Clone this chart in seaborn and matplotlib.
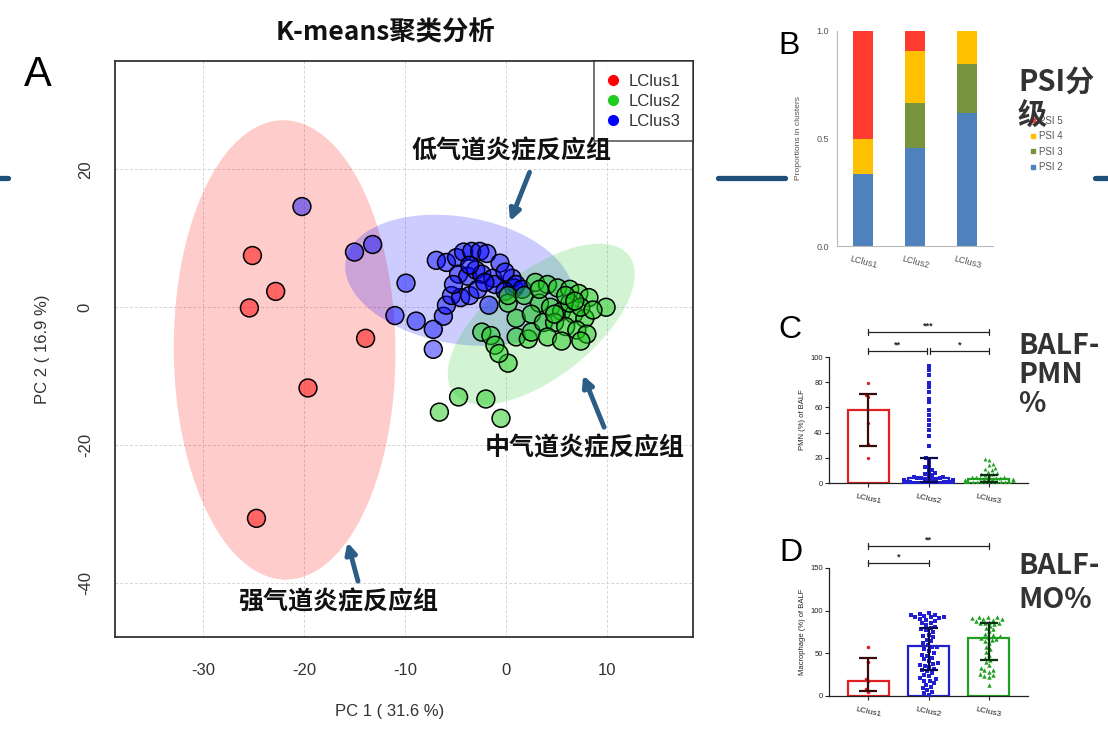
import numpy as np
import pandas as pd
import matplotlib
matplotlib.use("Agg")
import matplotlib.pyplot as plt
import seaborn as sns
from matplotlib.lines import Line2D

sns.set_style("white")
plt.rcParams["font.family"] = ["Liberation Sans", "Noto Sans CJK SC", "DejaVu Sans"]
CJK = ["Noto Sans CJK SC", "DejaVu Sans"]

# ---------------- Panel A data (PCA scores) ----------------
clus1_pc1 = [-25.1, -22.8, -25.4, -13.9, -19.6, -24.7]
clus1_pc2 = [7.5, 2.3, -0.1, -4.5, -11.7, -30.6]

clus3_pc1 = [-20.2, -15.0, -13.2, -9.9, -11.0, -8.9, -7.2, -7.2, -6.2, -5.9, -6.9, -5.9,
             -4.9, -4.2, -3.4, -2.6, -1.9, -0.6, -4.7, -3.8, -3.0, -2.4, -1.3, 0.6, 0.8,
             -1.1, -5.4, -4.5, -3.6, -2.8, -1.7, -0.1, -2.1, 1.0, 1.6, -0.1, -5.2, -3.6]
clus3_pc2 = [14.6, 8.0, 9.1, 3.5, -1.2, -2.0, -3.2, -6.1, -1.3, 0.3, 6.8, 6.5,
             7.2, 8.0, 8.1, 8.1, 7.8, 6.4, 4.8, 4.5, 5.4, 4.8, 4.2, 4.2, 2.8,
             3.3, 1.7, 1.4, 1.7, 2.6, 0.3, 5.1, 3.6, 3.3, 2.6, 2.3, 3.3, 6.1]

clus2_pc1 = [-6.6, -4.7, -2.0, -0.5, 0.2, -2.4, -1.5, -1.1, -0.7, 1.0, 2.2, 2.5, 1.0, 0.2,
             0.2, 1.8, 2.9, 4.1, 5.1, 6.3, 7.2, 8.2, 9.9, 3.3, 4.4, 5.5, 6.7, 7.8, 2.5,
             3.7, 4.8, 5.9, 7.0, 8.0, 4.1, 5.5, 7.4, 4.8, 6.3, 7.4, 3.3, 5.9, 8.6, 6.8]
clus2_pc2 = [-15.2, -13.0, -13.3, -16.1, -8.1, -3.6, -4.1, -5.5, -6.7, -4.3, -4.6, -3.6, -1.6, 0.6,
             1.7, 1.7, 3.6, 3.3, 2.8, 2.6, 2.0, 1.4, 0.0, 0.6, 0.0, -0.6, -1.0, -1.6, -1.0,
             -2.2, -2.2, -2.8, -3.3, -3.9, -4.3, -4.9, -4.9, -1.0, 0.6, 0.0, 2.6, 1.7, -0.4, 0.9]

a_xticks = [-30, -20, -10, 0, 10]
a_yticks = [-40, -20, 0, 20]

# ---------------- Panel B data (PSI proportions) ----------------
b_clusters = ["LClus1", "LClus2", "LClus3"]
psi2 = [0.333, 0.457, 0.618]
psi3 = [0.000, 0.209, 0.227]
psi4 = [0.167, 0.241, 0.155]
psi5 = [0.500, 0.093, 0.000]

# ---------------- Panel C data (PMN %) ----------------
c_bar = [58, 4, 3]
c_err_lo = [29, 1, 1]
c_err_hi = [71, 20, 6]
c_pts1 = [79, 70, 68, 48, 31, 20]
c_pts2 = [93, 90, 86, 79, 76, 72, 67, 64, 58, 54, 50, 46, 42, 37, 29, 20, 18, 15, 13, 12,
          10, 9, 8, 7, 6, 6, 5, 5, 4, 4, 4, 3, 3, 3, 3, 2, 2, 2, 2, 2, 1, 1, 1, 1, 1,
          1, 0.5, 0.5, 0.5, 0.5, 0, 0, 0, 0, 0, 0, 0, 0]
c_pts3 = [19, 18, 15, 14, 12, 11, 10, 9, 8, 7, 7, 6, 6, 5, 5, 5, 4, 4, 4, 3, 3, 3, 3, 2,
          2, 2, 2, 2, 1, 1, 1, 1, 1, 1, 0.5, 0.5, 0.5, 0, 0, 0]

# ---------------- Panel D data (Macrophage %) ----------------
d_bar = [18, 58.6, 68.5]
d_err_lo = [6, 30.5, 42]
d_err_hi = [44, 80, 85]
d_pts1 = [57, 40, 20, 17, 8, 5]
d_pts2 = [97, 96, 95, 95, 94, 93, 92, 92, 91, 90, 89, 88, 86, 85, 83, 81, 80, 78, 77, 75,
          72, 70, 69, 66, 64, 62, 60, 58, 57, 55, 53, 50, 48, 47, 45, 43, 41, 39, 38, 36,
          35, 34, 32, 30, 29, 27, 25, 23, 21, 20, 18, 17, 15, 13, 11, 9, 7, 5, 3, 1]
d_pts3 = [93, 92, 92, 91, 90, 90, 89, 88, 87, 86, 85, 85, 84, 82, 80, 78, 76, 73, 71, 70,
          69, 68, 67, 66, 65, 62, 58, 55, 52, 48, 45, 42, 40, 36, 33, 31, 30, 28, 26, 25,
          23, 22, 13]

W, H = 1108, 736
fig = plt.figure(figsize=(W / 100, H / 100), dpi=100)
fig.patch.set_facecolor("white")


def px_axes(l, t, r, b):
    return fig.add_axes([l / W, 1 - b / H, (r - l) / W, (b - t) / H])


# decorative slide lines
for x0, x1 in [(0, 8), (718, 785), (1095, 1108)]:
    fig.add_artist(Line2D([x0 / W, x1 / W], [1 - 178 / H] * 2, color="#1F4E79", lw=3.8,
                          transform=fig.transFigure))

# ======================= Panel A =======================
axA = px_axes(115, 61, 693, 637)
dfA = pd.DataFrame({
    "pc1": clus1_pc1 + clus3_pc1 + clus2_pc1,
    "pc2": clus1_pc2 + clus3_pc2 + clus2_pc2,
    "cluster": ["LClus1"] * len(clus1_pc1) + ["LClus3"] * len(clus3_pc1) + ["LClus2"] * len(clus2_pc1),
})
solid = {"LClus1": "#FF0000", "LClus2": "#1FCC1F", "LClus3": "#0000FF"}


def conf_ellipse(x, y, n=200, k=np.sqrt(5.991)):
    x = np.asarray(x); y = np.asarray(y)
    cov = np.cov(x, y)
    vals, vecs = np.linalg.eigh(cov)
    t = np.linspace(0, 2 * np.pi, n)
    circ = np.stack([np.cos(t), np.sin(t)])
    pts = vecs @ (np.sqrt(vals)[:, None] * circ) * k
    return x.mean() + pts[0], y.mean() + pts[1]


for name, xs, ys in [("LClus1", clus1_pc1, clus1_pc2), ("LClus3", clus3_pc1, clus3_pc2),
                     ("LClus2", clus2_pc1, clus2_pc2)]:
    ex, ey = conf_ellipse(xs, ys)
    axA.fill(ex, ey, color=solid[name], alpha=0.2, lw=0, zorder=1)

pal_alpha = {"LClus1": (1.0, 0.0, 0.0, 0.5), "LClus2": (0.12, 0.8, 0.12, 0.5),
             "LClus3": (0.0, 0.0, 1.0, 0.45)}
sns.scatterplot(data=dfA, x="pc1", y="pc2", hue="cluster", palette=pal_alpha, s=165,
                edgecolor="black", linewidth=1.1, legend=False, ax=axA, zorder=3)

axA.set_xlim(-38.7, 18.5)
axA.set_ylim(-47.8, 35.7)
axA.set_xticks(a_xticks)
axA.set_yticks(a_yticks)
axA.set_xticklabels([str(v) for v in a_xticks])
axA.set_yticklabels([str(v) for v in a_yticks], rotation=90, va="center")
axA.tick_params(axis="both", direction="out", length=8, width=1.2, color="#333333",
                labelsize=12, labelcolor="#333333")
axA.tick_params(axis="x", pad=11)
axA.tick_params(axis="y", pad=8)
axA.grid(True, color="#D5D5D5", linestyle=(0, (3, 2)), lw=0.7, zorder=0)
axA.set_axisbelow(True)
for s in axA.spines.values():
    s.set_color("#333333"); s.set_linewidth(1.3)
axA.set_xlabel("PC 1 ( 31.6 %)", fontsize=12, color="#333333")
axA.set_ylabel("PC 2 ( 16.9 %)", fontsize=12, color="#333333")
axA.xaxis.set_label_coords(0.475, -0.117)
axA.yaxis.set_label_coords(-0.112, 0.5)

handles = [Line2D([], [], marker="o", ls="", color=solid[k], markersize=7, label=k)
           for k in ["LClus1", "LClus2", "LClus3"]]
leg = axA.legend(handles=handles, loc="upper right", frameon=True, fancybox=False,
                 edgecolor="#222222", borderaxespad=0, fontsize=12, handlelength=0.8,
                 handletextpad=0.5, labelspacing=0.3, borderpad=0.75)
leg.get_frame().set_linewidth(1.1)
for t in leg.get_texts():
    t.set_color("#333333")


def d(px, py):
    return ((px - 506) / 10.1, (307 - py) / 6.9)


arrow_col = "#2C5D86"
for txt, tpos, start, tip in [
    ("低气道炎症反应组", (511, 151), (529.5, 172), (510, 221)),
    ("中气道炎症反应组", (585, 448), (604, 427), (583, 375)),
    ("强气道炎症反应组", (338, 602), (358, 581), (347.5, 542)),
]:
    axA.text(*d(*tpos), txt, fontsize=18, fontweight="bold", family=CJK,
             ha="center", va="center", color="#111111", zorder=6)
    axA.annotate("", xy=d(*tip), xytext=d(*start),
                 arrowprops=dict(arrowstyle="-|>", color=arrow_col, lw=3.5,
                                 mutation_scale=16, shrinkA=0, shrinkB=0), zorder=6)

fig.text(38 / W, 1 - 75 / H, "A", fontsize=30, ha="center", va="center", color="black")
fig.text(385 / W, 1 - 33 / H, "K-means聚类分析", fontsize=19, fontweight="bold",
         family=CJK, ha="center", va="center", color="#111111")

# ======================= Panel B =======================
axB = px_axes(837, 31, 993, 246)
cum2 = np.array(psi2)
cum3 = cum2 + np.array(psi3)
cum4 = cum3 + np.array(psi4)
cum5 = cum4 + np.array(psi5)
b_cols = {"PSI 5": "#FF3B30", "PSI 4": "#FFC000", "PSI 3": "#77933C", "PSI 2": "#4F81BD"}
for lab, vals in [("PSI 5", cum5), ("PSI 4", cum4), ("PSI 3", cum3), ("PSI 2", cum2)]:
    sns.barplot(x=b_clusters, y=vals, color=b_cols[lab], width=0.4, ax=axB,
                saturation=1, linewidth=0)
axB.set_xlim(-0.5, 2.5)
axB.set_ylim(0, 1.0)
axB.set_yticks([0, 0.5, 1.0])
axB.set_yticklabels(["0.0", "0.5", "1.0"])
axB.tick_params(axis="both", length=0, labelsize=6.5, labelcolor="#555555", pad=6)
plt.setp(axB.get_xticklabels(), rotation=-15, ha="center")
for s in ["top", "right"]:
    axB.spines[s].set_visible(False)
for s in ["left", "bottom"]:
    axB.spines[s].set_color("#BBBBBB"); axB.spines[s].set_linewidth(0.8)
axB.set_ylabel("Proportions in clusters", fontsize=6, color="#555555", labelpad=10)
bh = [Line2D([], [], marker="s", ls="", color=b_cols[k], markersize=3.5, label=k)
      for k in ["PSI 5", "PSI 4", "PSI 3", "PSI 2"]]
fig.legend(handles=bh, loc="upper left", bbox_to_anchor=(1026 / W, 1 - 112 / H),
           frameon=False, fontsize=7, handlelength=0.6, handletextpad=0.3,
           labelspacing=0.55, borderaxespad=0, labelcolor="#555555")
fig.text(789 / W, 1 - 46 / H, "B", fontsize=23, ha="center", va="center", color="black")
fig.text(1018 / W, 1 - 82 / H, "PSI分", fontsize=21, fontweight="bold", family=CJK,
         ha="left", va="center", color="#333333", zorder=10)
fig.text(1018 / W, 1 - 116 / H, "级", fontsize=21, fontweight="bold", family=CJK,
         ha="left", va="center", color="#333333", zorder=10)

# ======================= Panels C and D =======================
cats = ["LClus1", "LClus2", "LClus3"]
cd_cols = {"LClus1": "#E02020", "LClus2": "#2020D0", "LClus3": "#20A020"}
err_cols = ["#3A0A0A", "#0A0A50", "#0A3010"]
markers = ["o", "s", "^"]


def bracket(ax, x0, x1, y, label, cap):
    ax.plot([x0, x1], [y, y], color="#222222", lw=0.9, clip_on=False)
    ax.plot([x0, x0], [y - cap, y + cap], color="#222222", lw=0.9, clip_on=False)
    ax.plot([x1, x1], [y - cap, y + cap], color="#222222", lw=0.9, clip_on=False)
    ax.text((x0 + x1) / 2, y + cap * 0.4, label, ha="center", va="bottom", fontsize=6.5,
            fontweight="bold", color="#222222")


def bar_panel(ax, bars, lo, hi, pts, ylim, yticks, ylabel, sizes):
    sns.barplot(x=cats, y=bars, hue=cats, palette=cd_cols, fill=False, width=0.68,
                linewidth=1.6, legend=False, ax=ax, zorder=2)
    for i, (c, v) in enumerate(zip(cats, pts)):
        dfp = pd.DataFrame({"g": [c] * len(v), "v": v})
        sns.swarmplot(data=dfp, x="g", y="v", order=cats, color=cd_cols[c],
                      marker=markers[i], size=sizes[i], ax=ax, zorder=3, linewidth=0)
    for i in range(3):
        ax.errorbar(i, bars[i], yerr=[[bars[i] - lo[i]], [hi[i] - bars[i]]],
                    color=err_cols[i], capsize=6.5, elinewidth=1.6, capthick=1.6, zorder=4)
    ax.set_xlim(-0.65, 2.65)
    ax.set_ylim(*ylim)
    ax.set_yticks(yticks)
    ax.set_xlabel("")
    ax.set_ylabel(ylabel, fontsize=5.5, color="#222222", labelpad=3)
    ax.tick_params(axis="y", direction="out", length=3, width=0.8, labelsize=5.5,
                   labelcolor="#222222", pad=1.5, left=True)
    ax.tick_params(axis="x", direction="out", length=3, width=0.8, labelsize=6,
                   labelcolor="#222222", pad=4, bottom=True)
    plt.setp(ax.get_xticklabels(), rotation=-12, ha="center")
    for s in ["top", "right"]:
        ax.spines[s].set_visible(False)
    for s in ["left", "bottom"]:
        ax.spines[s].set_color("#222222"); ax.spines[s].set_linewidth(0.9)


axC = px_axes(829, 357, 1028, 483)
bar_panel(axC, c_bar, c_err_lo, c_err_hi, [c_pts1, c_pts2, c_pts3], (0, 100),
          [0, 20, 40, 60, 80, 100], "PMN (%) of BALF", [2.4, 2.6, 2.8])
bracket(axC, 0, 2, 120, "***", 2.5)
bracket(axC, 0, 0.97, 105, "**", 2.5)
bracket(axC, 1.03, 2, 105, "*", 2.5)

axD = px_axes(829, 568, 1028, 696)
bar_panel(axD, d_bar, d_err_lo, d_err_hi, [d_pts1, d_pts2, d_pts3], (0, 150),
          [0, 50, 100, 150], "Macrophage (%) of BALF", [2.6, 3.4, 3.2])
bracket(axD, 0, 2, 176, "**", 3.5)
bracket(axD, 0, 1, 156, "*", 3.5)

fig.text(790 / W, 1 - 330 / H, "C", fontsize=23, ha="center", va="center", color="black")
fig.text(791 / W, 1 - 553 / H, "D", fontsize=23, ha="center", va="center", color="black")
for txt, y in [("BALF-", 346), ("PMN", 375), ("%", 404)]:
    fig.text(1018 / W, 1 - y / H, txt, fontsize=20.5, fontweight="bold", family=CJK,
             ha="left", va="center", color="#333333")
for txt, y in [("BALF-", 566), ("MO%", 600)]:
    fig.text(1018 / W, 1 - y / H, txt, fontsize=20.5, fontweight="bold", family=CJK,
             ha="left", va="center", color="#333333")

fig.savefig("out.png", dpi=100, facecolor="white")
